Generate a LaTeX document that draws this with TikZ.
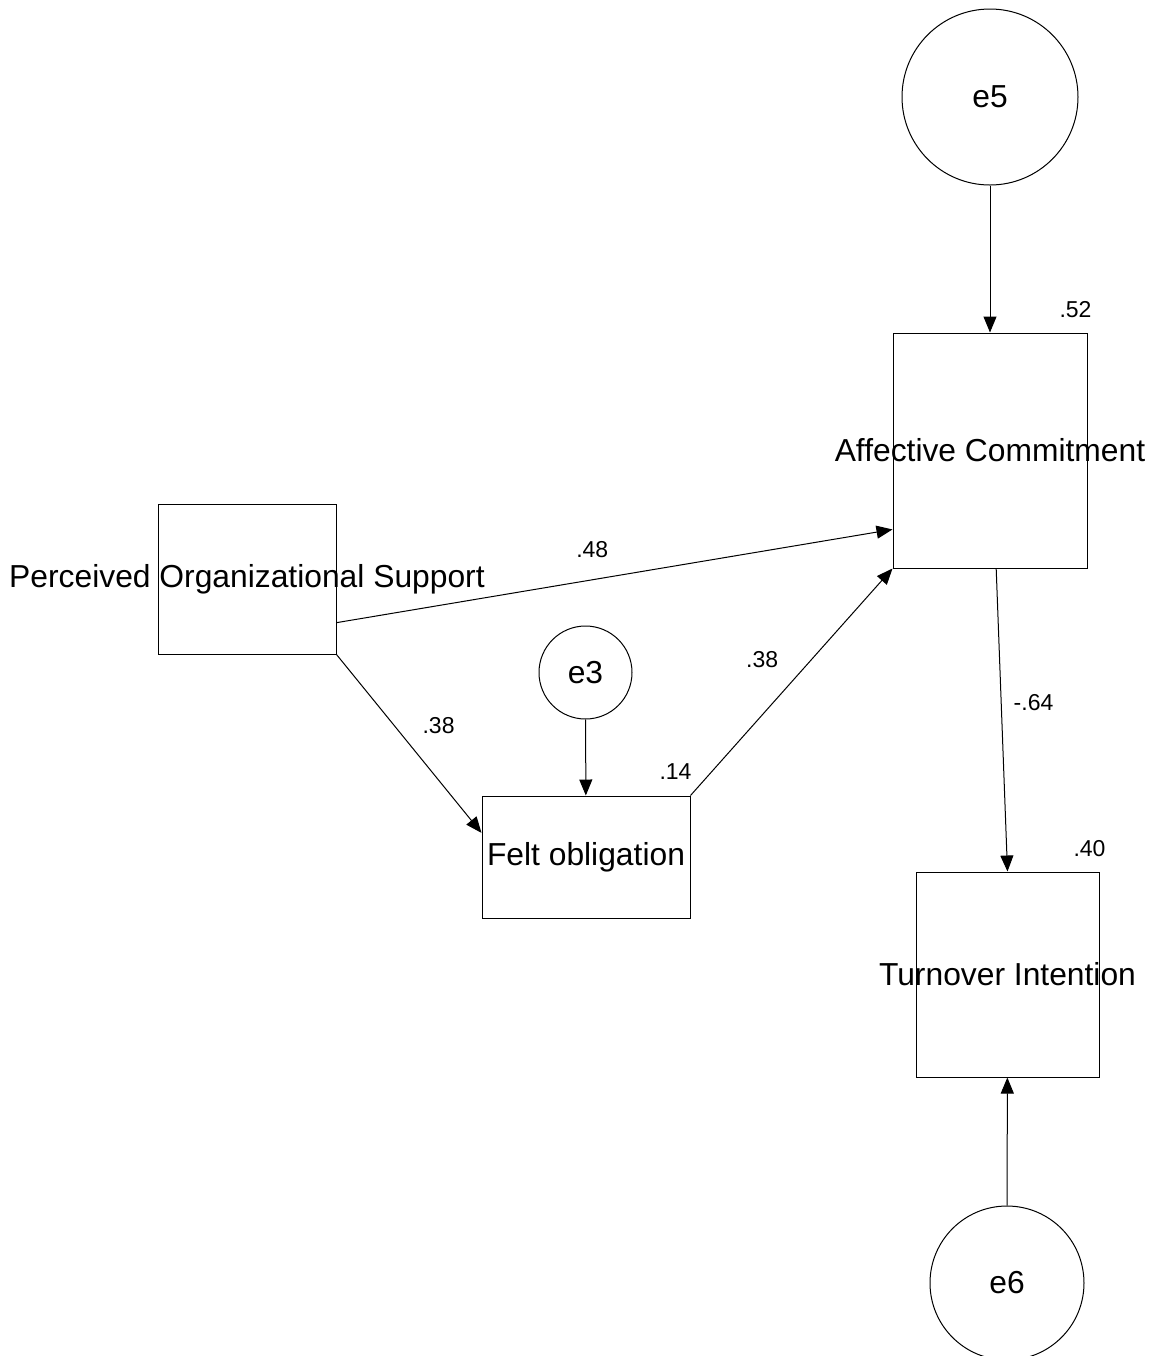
\documentclass[tikz,border=0pt]{standalone}
\usepackage{fontspec}
\setmainfont{Liberation Sans}
\usetikzlibrary{arrows.meta,positioning}

\begin{document}
\begin{tikzpicture}[x=0.5pt,y=-0.5pt,
  obs/.style  ={draw,line width=0.5pt,inner sep=0pt},
  err/.style  ={draw,circle,line width=0.5pt,inner sep=0pt,font=\fontsize{15.9}{19}\selectfont},
  vtext/.style={font=\fontsize{15.9}{19}\selectfont,inner sep=0pt},
  link/.style ={line width=0.5pt,-{Triangle[length=8pt,width=6.5pt]}},
  coef/.style ={font=\fontsize{11.5}{13}\selectfont,inner sep=1pt}
]
  \useasboundingbox (0,0) rectangle (1158,1356);

  % ----- error terms -----
  \node[err,minimum size=88pt]   (e5) at (990,97)      {e5};
  \node[err,minimum size=46.5pt] (e3) at (585.5,672.5) {e3};
  \node[err,minimum size=77pt]   (e6) at (1007,1283)   {e6};

  % ----- observed variables (text may run past the box) -----
  \node[obs,minimum width=89pt,minimum height=75pt,
        label={[vtext]center:Perceived Organizational Support}] (POS) at (247,579) {};
  \node[obs,minimum width=97pt,minimum height=117.5pt,
        label={[vtext]center:Affective Commitment}] (AC) at (990,450.5) {};
  \node[obs,minimum width=104pt,minimum height=61pt,
        label={[vtext]center:Felt obligation}] (FO) at (586,857) {};
  \node[obs,minimum width=91.5pt,minimum height=102.5pt,
        label={[vtext]center:Turnover Intention}] (TI) at (1007.5,974.5) {};

  % squared multiple correlations
  \node[coef] (rAC) at ([shift={(-12,-23)}]AC.north east) {.52};
  \node[coef] (rFO) at ([shift={(-15,-24)}]FO.north east) {.14};
  \node[coef] (rTI) at ([shift={(-10,-23)}]TI.north east) {.40};

  % ----- structural paths -----
  \draw[link] (POS.-26) -- (AC.219) node[coef,pos=0.46,above=9.8pt] (cPA) {.48};
  \draw[link] (POS.south east) -- (FO.167) node[coef,pos=0.4,right=12.8pt] (cPF) {.38};
  \draw[link] (FO.north east) -- (AC.south west) node[coef,pos=0.6,left=15.5pt] (cFA) {.38};
  \draw[link] (AC.-87) -- (TI.north) node[coef,pos=0.444,right=5pt] (cAT) {-.64};

  % ----- error paths -----
  \draw[link] (e5) -- (AC);
  \draw[link] (e3) -- (FO);
  \draw[link] (e6) -- (TI);
\end{tikzpicture}
\end{document}
